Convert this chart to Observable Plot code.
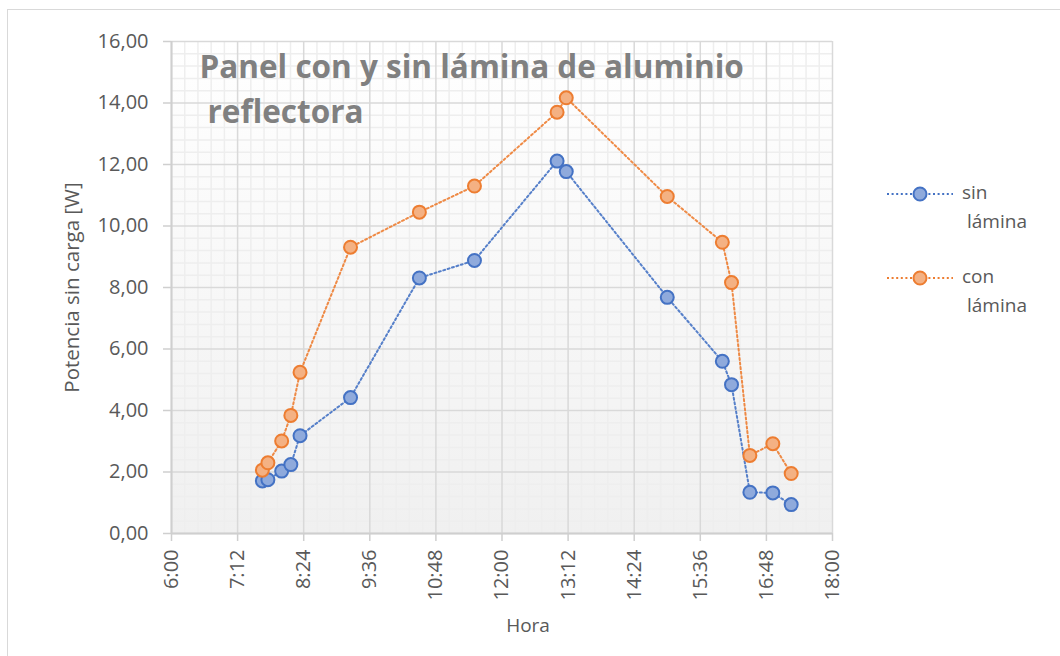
<!DOCTYPE html>
<html>
<head>
<meta charset="utf-8">
<script src="https://cdn.jsdelivr.net/npm/d3@7"></script>
<script src="https://cdn.jsdelivr.net/npm/@observablehq/plot@0.6"></script>
<style>
  html, body { margin: 0; padding: 0; background: #fff; overflow: hidden; }
  #wrap { position: relative; width: 1060px; height: 656px; font-family: "Open Sans", sans-serif; }
  #border { position: absolute; left: 7px; top: 9px; width: 1200px; height: 800px; border: 1px solid #d9d9d9; }
  #chart { position: absolute; left: 0; top: 0; }
  #legend { position: absolute; left: 886px; top: 180px; color: #595959; font-size: 19px; line-height: 29px; }
  .item { position: relative; height: 84px; }
  .item svg { position: absolute; left: 0; top: 0; }
  .item .lab { position: absolute; left: 76px; top: -2px; }
  .item .lab span { display: block; }
  .item .lab span.second { padding-left: 5px; }
</style>
</head>
<body>
<div id="wrap">
  <div id="border"></div>
  <div id="chart"></div>
  <div id="legend"></div>
</div>
<script>
// ---- data ----
const horas = ["7:39","7:45","8:00","8:10","8:20","9:15","10:30","11:30","13:00","13:10","15:00","16:00","16:10","16:30","16:55","17:15"];
const sinLamina = [1.71,1.75,2.03,2.24,3.18,4.42,8.31,8.88,12.11,11.77,7.68,5.60,4.84,1.34,1.32,0.94];
const conLamina = [2.06,2.30,3.01,3.84,5.24,9.31,10.45,11.30,13.70,14.17,10.96,9.47,8.16,2.54,2.92,1.95];
const seriesNames = ["sin lámina", "con lámina"];
const xTickLabels = ["6:00","7:12","8:24","9:36","10:48","12:00","13:12","14:24","15:36","16:48","18:00"];
const yTickValues = [0,2,4,6,8,10,12,14,16];
const titleLines = ["Panel con y sin lámina de aluminio", "reflectora"];
const xTitle = "Hora";
const yTitle = "Potencia sin carga [W]";

// ---- helpers ----
const toHours = s => { const [h, m] = s.split(":").map(Number); return h + m / 60; };
const fmtTime = v => { const t = Math.round(v * 60); return `${Math.floor(t / 60)}:${String(t % 60).padStart(2, "0")}`; };
const fmtNum = v => d3.format(".2f")(v).replace(".", ",");

const xTicks = xTickLabels.map(toHours);
const xMinor = d3.range(0, 51).filter(i => i % 5 !== 0).map(i => 6 + i * 0.24);
const yMinor = d3.range(0, 41).filter(i => i % 5 !== 0).map(i => i * 0.4);

const colors = { "sin lámina": { stroke: "#4472c4", fill: "#8faadc" }, "con lámina": { stroke: "#ed7d31", fill: "#f4b183" } };

const rows = [];
horas.forEach((h, i) => {
  rows.push({ serie: "sin lámina", x: toHours(h), y: sinLamina[i] });
  rows.push({ serie: "con lámina", x: toHours(h), y: conLamina[i] });
});

const lineMarks = seriesNames.map(s => Plot.line(rows.filter(d => d.serie === s), {
  x: "x", y: "y", stroke: colors[s].stroke, strokeWidth: 2, strokeDasharray: "2 2.6", strokeOpacity: 0.9
}));
const dotMarks = seriesNames.map(s => Plot.dot(rows.filter(d => d.serie === s), {
  x: "x", y: "y", r: 6.5, fill: colors[s].fill, stroke: colors[s].stroke, strokeWidth: 2
}));

const plot = Plot.plot({
  width: 1060,
  height: 656,
  marginLeft: 171,
  marginRight: 228,
  marginTop: 41,
  marginBottom: 123,
  x: { domain: [6, 18] },
  y: { domain: [0, 16] },
  style: { fontFamily: "'Open Sans', sans-serif", fontSize: "20px", color: "#595959", background: "transparent" },
  marks: [
    Plot.frame({ fill: "url(#bgGrad)", stroke: "none" }),
    Plot.ruleX(xMinor, { stroke: "#eeeeee", strokeWidth: 1.5 }),
    Plot.ruleY(yMinor, { stroke: "#eeeeee", strokeWidth: 1.5 }),
    Plot.ruleX(xTicks, { stroke: "#d9d9d9", strokeWidth: 1.5 }),
    Plot.ruleY(yTickValues, { stroke: "#d9d9d9", strokeWidth: 1.5 }),
    Plot.ruleX([6], { stroke: "#cfcfcf", strokeWidth: 2 }),
    Plot.ruleY([0], { stroke: "#cfcfcf", strokeWidth: 2 }),
    Plot.axisX({ ticks: xTicks, tickFormat: fmtTime, tickRotate: -90, tickSize: 8, tickPadding: 8, stroke: "#cfcfcf", strokeWidth: 1.5, fill: "#595959", fontSize: 20, label: null }),
    Plot.axisY({ ticks: yTickValues, tickFormat: fmtNum, tickSize: 8, tickPadding: 15, stroke: "#cfcfcf", strokeWidth: 1.5, fill: "#595959", fontSize: 20, label: null }),
    ...lineMarks,
    ...dotMarks,
    Plot.text([titleLines[0]], { text: d => d, frameAnchor: "top-left", textAnchor: "start", lineAnchor: "bottom", dx: 28, dy: 36, fontSize: 31.5, fontWeight: "bold", fill: "#808080" }),
    Plot.text([titleLines[1]], { text: d => d, frameAnchor: "top-left", textAnchor: "start", lineAnchor: "bottom", dx: 36, dy: 81, fontSize: 31.5, fontWeight: "bold", fill: "#808080" }),
    Plot.text([xTitle], { text: d => d, frameAnchor: "bottom", textAnchor: "middle", dx: 26, dy: 92, lineAnchor: "middle", fontSize: 19, fill: "#595959" }),
    Plot.text([yTitle], { text: d => d, frameAnchor: "left", textAnchor: "middle", rotate: -90, dx: -99, lineAnchor: "middle", fontSize: 20.5, fill: "#595959" })
  ]
});

// gradient for plot area background
const svg = d3.select(plot);
const defs = svg.insert("defs", ":first-child");
const grad = defs.append("linearGradient").attr("id", "bgGrad").attr("x1", 0).attr("y1", 0).attr("x2", 0).attr("y2", 1);
grad.append("stop").attr("offset", "0%").attr("stop-color", "#ffffff");
grad.append("stop").attr("offset", "100%").attr("stop-color", "#f0f0f0");

document.getElementById("chart").appendChild(plot);

// legend
const legend = document.getElementById("legend");
seriesNames.forEach(s => {
  const [a, b] = s.split(" ");
  const item = document.createElement("div");
  item.className = "item";
  item.innerHTML = `<svg width="70" height="30"><line x1="1" y1="14" x2="67" y2="14" stroke="${colors[s].stroke}" stroke-width="2" stroke-dasharray="2 2.6"/><circle cx="34" cy="14" r="6.5" fill="${colors[s].fill}" stroke="${colors[s].stroke}" stroke-width="2"/></svg><div class="lab"><span>${a}</span><span class="second">${b}</span></div>`;
  legend.appendChild(item);
});
</script>
</body>
</html>
